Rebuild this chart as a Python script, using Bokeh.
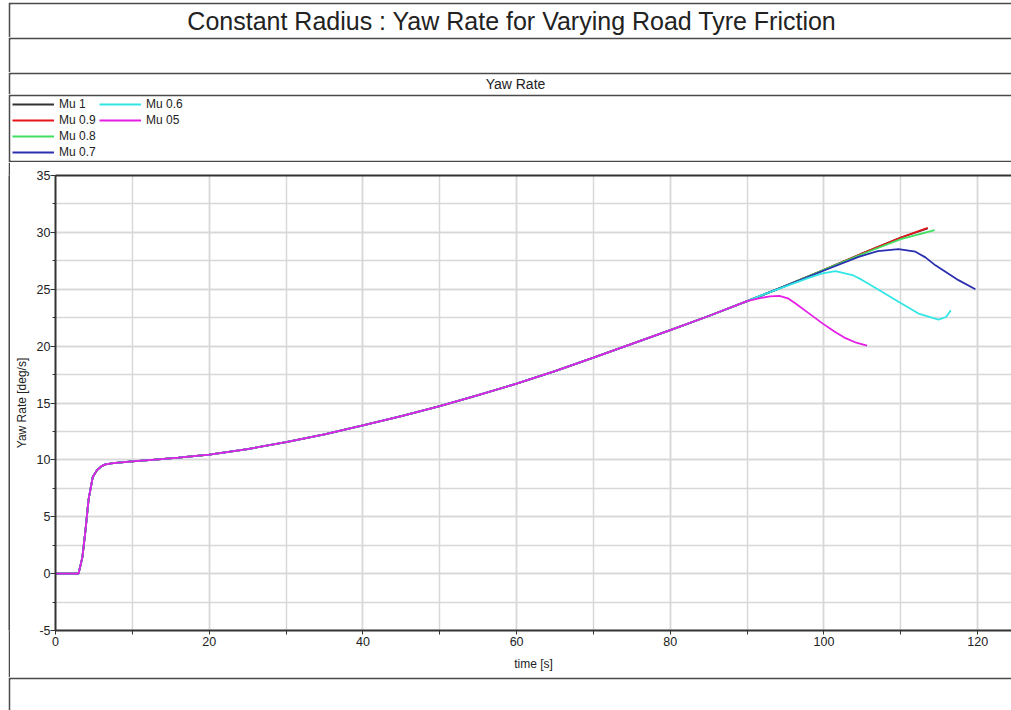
from bokeh.plotting import figure
from bokeh.layouts import column, row
from bokeh.models import (Range1d, LinearAxis, SingleIntervalTicker, FixedTicker,
                          Label, Legend, LegendItem, Spacer)
from bokeh.embed import file_html
from bokeh.resources import INLINE

# ---------------- data ----------------
title_text = "Constant Radius : Yaw Rate for Varying Road Tyre Friction"
subtitle_text = "Yaw Rate"
x_label = "time [s]"
y_label = "Yaw Rate [deg/s]"

series_names = ["Mu 1", "Mu 0.9", "Mu 0.8", "Mu 0.7", "Mu 0.6", "Mu 05"]
series_colors = ["#333333", "#e8141a", "#3fe060", "#2a2fb0", "#33e6e6", "#e51ee5"]

# shared part of all runs (identical until ~90 s)
t_common = [0, 3.0, 3.5, 3.9, 4.3, 4.6, 4.85, 5.4, 6.0, 6.5, 7.5, 10, 13, 16, 20, 25,
            30, 35, 40, 45, 50, 55, 60, 65, 70, 75, 80, 85, 90]
y_common = [0, 0, 1.45, 3.8, 6.5, 7.6, 8.5, 9.1, 9.45, 9.6, 9.72, 9.86, 10.03, 10.2,
            10.47, 10.95, 11.56, 12.25, 13.03, 13.85, 14.73, 15.7, 16.7, 17.8, 18.99,
            20.2, 21.4, 22.65, 23.95]

# individual tails
t_mu1 = [95, 100, 105, 110, 113.5]
y_mu1 = [25.3, 26.7, 28.15, 29.55, 30.35]
t_mu09 = [95, 100, 105, 110, 113.5]
y_mu09 = [25.3, 26.7, 28.15, 29.55, 30.4]
t_mu08 = [95, 100, 105, 110, 114.4]
y_mu08 = [25.3, 26.7, 28.1, 29.4, 30.2]
t_mu07 = [95, 100, 104.5, 107, 109.7, 111.9, 113.2, 114.5, 117.5, 119.7]
y_mu07 = [25.3, 26.65, 27.85, 28.35, 28.52, 28.3, 27.8, 27.1, 25.8, 25.0]
t_mu06 = [92, 95, 98, 99.8, 101.5, 103.7, 105, 107.1, 109.7, 112.3, 114.9, 115.9, 116.5]
y_mu06 = [24.5, 25.25, 26.0, 26.4, 26.6, 26.25, 25.8, 24.95, 23.9, 22.86, 22.33, 22.56, 23.15]
t_mu05 = [91.5, 93, 94.2, 95.3, 96.3, 98, 99.8, 101.3, 102.8, 104.2, 105.6]
y_mu05 = [24.2, 24.38, 24.42, 24.2, 23.75, 22.9, 22.0, 21.3, 20.7, 20.3, 20.05]

tails_t = [t_mu1, t_mu09, t_mu08, t_mu07, t_mu06, t_mu05]
tails_y = [y_mu1, y_mu09, y_mu08, y_mu07, y_mu06, y_mu05]

x_start, x_end = 0, 124.4
y_start, y_end = -5, 35

# ---------------- styling ----------------
FONT = "Liberation Sans"
BORDER = "#4a4a4a"
TEXT = "#222222"
GRID = "#d8d8d8"
W = 1003


def box_fig(h, top=2, bottom=0):
    f = figure(width=W, height=h, output_backend="svg", toolbar_location=None,
               x_axis_type=None, y_axis_type=None, min_border=0,
               x_range=Range1d(0, 1), y_range=Range1d(0, 1))
    f.min_border_top = top
    f.min_border_bottom = bottom
    f.min_border_left = 2
    f.min_border_right = 0
    f.border_fill_color = BORDER
    f.background_fill_color = "white"
    f.outline_line_color = None
    return f


# title box
title_fig = box_fig(35)
title_fig.add_layout(Label(x=501.5, y=17, x_units="screen", y_units="screen",
                           text=title_text, text_align="center", text_baseline="middle",
                           text_font=FONT, text_font_size="25px", text_color=TEXT))

# blank box
blank_fig = box_fig(35)

# subtitle box
sub_fig = box_fig(22)
sub_fig.add_layout(Label(x=505, y=11, x_units="screen", y_units="screen",
                         text=subtitle_text, text_align="center", text_baseline="middle",
                         text_font=FONT, text_font_size="14px", text_color=TEXT))

# legend box (legend samples use off-screen proxy lines)
leg_fig = box_fig(68, top=2, bottom=2)
items = []
for name, col in zip(series_names, series_colors):
    r = leg_fig.line(x=[-5, -4], y=[-5, -4], line_color=col, line_width=2)
    items.append(LegendItem(label=name, renderers=[r]))
legend = Legend(items=items, location=(2, 0), nrows=4, orientation="vertical",
                glyph_width=42, glyph_height=16, label_height=16, label_width=40,
                label_standoff=5, spacing=0, padding=0, margin=0,
                border_line_color=None, background_fill_alpha=0,
                label_text_font=FONT, label_text_font_size="12px",
                label_text_color=TEXT)
leg_fig.add_layout(legend)

# main plot
p = figure(width=W - 2, height=515, output_backend="svg", toolbar_location=None,
           x_range=Range1d(x_start, x_end), y_range=Range1d(y_start, y_end),
           min_border_left=45, min_border_right=0, min_border_top=13, min_border_bottom=47)
p.outline_line_color = None
p.background_fill_color = "white"
p.border_fill_color = "white"

p.xaxis.ticker = SingleIntervalTicker(interval=20, num_minor_ticks=2)
p.yaxis.ticker = SingleIntervalTicker(interval=5, num_minor_ticks=2)
for ax in (p.xaxis[0], p.yaxis[0]):
    ax.axis_line_color = "#333333"
    ax.axis_line_width = 2
    ax.major_tick_line_color = "#333333"
    ax.minor_tick_line_color = "#333333"
    ax.major_tick_in = 0
    ax.minor_tick_in = 0
    ax.major_label_text_font = FONT
    ax.major_label_text_font_size = "12.5px"
    ax.major_label_text_color = TEXT
    ax.axis_label_text_font = FONT
    ax.axis_label_text_font_size = "12px"
    ax.axis_label_text_font_style = "normal"
    ax.axis_label_text_color = TEXT
p.xaxis.major_tick_out = 3
p.xaxis.minor_tick_out = 4
p.yaxis.major_tick_out = 5
p.yaxis.minor_tick_out = 3
p.xaxis.major_label_standoff = 2
p.yaxis.major_label_standoff = 0
p.yaxis.major_label_overrides = {-5: "-5"}
p.xaxis.axis_label = x_label
p.yaxis.axis_label = y_label
p.xaxis.axis_label_standoff = 8
p.yaxis.axis_label_standoff = 5

top_axis = LinearAxis(ticker=FixedTicker(ticks=[]), axis_line_color="#333333",
                      axis_line_width=2, major_tick_line_color=None,
                      minor_tick_line_color=None, major_label_text_font_size="0px")
p.add_layout(top_axis, "above")

for g in (p.xgrid[0], p.ygrid[0]):
    g.grid_line_color = GRID
    g.grid_line_width = 1.5
    g.minor_grid_line_color = GRID
    g.minor_grid_line_width = 1.5

for name, col, tt, yy in zip(series_names, series_colors, tails_t, tails_y):
    p.line(x=t_common + tt, y=y_common + yy, line_color=col, line_width=1.8)

left_bar = figure(width=2, height=515, output_backend="svg", toolbar_location=None,
                  x_axis_type=None, y_axis_type=None, min_border=0,
                  x_range=Range1d(0, 1), y_range=Range1d(0, 1))
left_bar.background_fill_color = BORDER
left_bar.border_fill_color = BORDER
left_bar.outline_line_color = None

bottom_fig = box_fig(33)

content = column(Spacer(width=W, height=2), title_fig, blank_fig, sub_fig, leg_fig,
                 row(left_bar, p, spacing=0), bottom_fig, spacing=0)
layout = row(Spacer(width=8, height=710), content, spacing=0)

open("out.html", "w").write(file_html(layout, INLINE))
